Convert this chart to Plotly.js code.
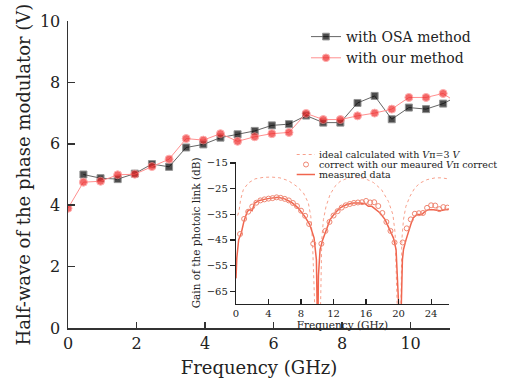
<!DOCTYPE html>
<html>
<head>
<meta charset="utf-8">
<script src="https://cdn.plot.ly/plotly-3.0.1.min.js"></script>
<style>html,body{margin:0;padding:0;background:#fff;}#chart{width:510px;height:379px;}</style>
</head>
<body>
<div id="chart"></div>
<script>
// ---- Main chart data: half-wave voltage vs frequency ----
const osaFreq = [0.45,0.95,1.45,1.95,2.45,2.95,3.45,3.95,4.45,4.95,5.45,5.95,6.45,6.95,7.45,7.95,8.45,8.95,9.45,9.95,10.45,10.95,11.2];
const osaVpi  = [5.0,4.88,4.85,5.03,5.34,5.25,5.88,5.98,6.2,6.31,6.42,6.6,6.64,6.92,6.69,6.69,7.33,7.56,6.8,7.18,7.13,7.31,7.45];
const ourFreq = [0,0.45,0.95,1.45,1.95,2.45,2.95,3.45,3.95,4.45,4.95,5.45,5.95,6.45,6.95,7.45,7.95,8.45,8.95,9.45,9.95,10.45,10.95,11.2];
const ourVpi  = [3.9,4.75,4.78,4.99,5.01,5.26,5.5,6.17,6.12,6.33,6.08,6.23,6.33,6.37,6.99,6.79,6.79,6.91,7.0,7.13,7.51,7.51,7.64,7.45];

// ---- Inset data: gain of the photonic link ----
const idealFreq = [0.2,0.37,0.57,0.9,1.52,2.34,3.36,4.4,5.4,6.44,7.47,8.3,8.9,9.2,9.4,9.48,9.55,9.95,10.35,10.4,10.55,10.75,11.08,11.57,12.18,12.8,13.8,14.85,15.88,16.9,17.9,18.75,19.3,19.57,19.7,19.77,19.85,20.05,20.25,20.3,20.4,20.6,20.9,21.4,22.0,22.65,23.5,24.5,25.3,26.1,26.3];
const idealGain = [-35.5,-33.8,-29.3,-25.4,-22.8,-21.2,-20.6,-20.5,-20.8,-21.9,-24.1,-26.7,-30.6,-35.8,-44.9,-57.9,-80,-95,-80,-70,-44.9,-37.1,-31.9,-27.3,-24.1,-22.2,-20.8,-20.6,-21.1,-22.6,-25.4,-30,-35.1,-42.3,-57.9,-69.5,-80,-95,-80,-69.5,-44.9,-37.1,-31.9,-28,-24.7,-22.8,-21.5,-20.8,-20.8,-21.2,-21.3];

const corrFreq = [0.5,1,1.5,2,2.5,3,3.5,4,4.5,5,5.5,6,6.5,7,7.5,8,8.5,9,9.5,
                  10.5,11,11.5,12,12.5,13,13.5,14,14.5,15,15.5,16,16.5,17,17.5,18,18.5,19,19.5,
                  20.5,21,21.5,22,22.5,23,23.5,24,24.5,25,25.5,26];
const corrGain = [-42.7,-36.8,-34,-32,-30.5,-29.6,-29.2,-28.9,-28.7,-28.4,-28.6,-29.0,-29.6,-30.6,-31.8,-33.6,-35.6,-38.8,-46.5,
                  -46.5,-41.5,-38,-35.5,-33.8,-32.4,-31.5,-31,-30.6,-30.4,-30.3,-29.8,-30.4,-30.3,-31.8,-34.5,-38,-41.5,-46,
                  -46,-40.5,-37,-34.8,-34.6,-34.5,-32.5,-31.5,-31.6,-33,-32.2,-32.4];

const measFreq = [0,0.1,0.33,0.65,0.98,1.39,1.68,1.97,2.3,2.9,3.73,4.55,5.17,5.99,6.81,7.63,8.45,9.07,9.6,9.89,10.05,10.14,10.34,10.67,11.08,11.57,12.18,12.8,13.62,14.44,15.26,15.88,16.28,16.7,17.1,17.72,18.34,18.95,19.36,19.69,19.97,20.22,20.47,20.6,20.92,21.2,21.5,21.8,22.24,22.85,23.26,23.67,24.3,25.1,25.7,26.2];
const measGain = [-60,-52,-44.9,-42.3,-37.7,-33.9,-33.2,-33.6,-30.6,-29.6,-29.0,-28.6,-28.4,-29.0,-30.3,-32.5,-35.8,-39.0,-44.2,-52.7,-85,-59,-48.8,-44.9,-41,-37.1,-34.5,-32.5,-31.2,-30.6,-30.6,-30.9,-31.9,-31.9,-32.9,-34.5,-37.1,-41,-44.2,-48.8,-61.7,-85,-52.7,-48.8,-44.9,-41.6,-39,-36.4,-35.1,-35.1,-33.9,-33.2,-33.2,-33.6,-33.2,-32.9];

const legendMain = ['with OSA method','with our method'];
const legendInset = ['ideal calculated with <i>V</i>π=3 <i>V</i>','correct with our meaured <i>V</i>π correct','measured data'];

const FONT = 'DejaVu Serif';
const RED = '#ef2b2b', REDLINE = '#ff8f8f';
const IDEAL = '#f7a08c', CORR = '#ef8672', MEAS = '#f0654e';

// hide the marker on the trailing (edge) point
const sizesOf = (arr, s) => arr.map((_, i) => i === arr.length - 1 ? 0 : s);

const traces = [
  {x: osaFreq, y: osaVpi, name: legendMain[0], type: 'scatter', mode: 'lines+markers',
   line: {color: '#666', width: 1}, marker: {symbol: 'square', color: '#000', size: sizesOf(osaFreq, 7)}},
  {x: ourFreq, y: ourVpi, name: legendMain[1], type: 'scatter', mode: 'lines+markers',
   line: {color: REDLINE, width: 1}, marker: {symbol: 'circle', color: RED, size: sizesOf(ourFreq, 8)}},
  {x: idealFreq, y: idealGain, xaxis: 'x2', yaxis: 'y2', type: 'scatter', mode: 'lines', showlegend: false,
   line: {color: IDEAL, width: 1, dash: 'dot'}},
  {x: measFreq, y: measGain, xaxis: 'x2', yaxis: 'y2', type: 'scatter', mode: 'lines', showlegend: false,
   line: {color: MEAS, width: 1.5}},
  {x: corrFreq, y: corrGain, xaxis: 'x2', yaxis: 'y2', type: 'scatter', mode: 'markers', showlegend: false,
   marker: {symbol: 'circle-open', color: CORR, size: 5, line: {width: 1, color: CORR}}}
];

// paper coordinate helpers for the inset legend (layout only)
const L = 68, T = 21, PW = 382, PH = 307;
const px = v => (v - L) / PW, py = v => (T + PH - v) / PH;
const legY = [154.5, 164.5, 174.5];

const layout = {
  width: 510, height: 379,
  margin: {l: L, r: 510 - L - PW, t: T, b: 379 - T - PH},
  paper_bgcolor: '#fff', plot_bgcolor: 'rgba(0,0,0,0)',
  font: {family: FONT, color: '#222'},
  showlegend: true,
  legend: {x: 0.623, y: 1.0, xanchor: 'left', yanchor: 'top', bgcolor: 'rgba(0,0,0,0)',
           font: {family: FONT, size: 14, color: '#222'}, tracegroupgap: 0},
  xaxis: {domain: [0, 1], range: [0, 11.15], dtick: 2, tick0: 0, showgrid: false, zeroline: false,
          showline: true, linecolor: '#333', linewidth: 1.5, ticks: 'inside', ticklen: 6, tickwidth: 1.5, tickcolor: '#333',
          tickfont: {family: FONT, size: 16, color: '#222'},
          title: {text: 'Frequency (GHz)', font: {family: FONT, size: 18, color: '#222'}, standoff: 9}},
  yaxis: {domain: [0, 1], range: [0, 10], dtick: 2, tick0: 0, showgrid: false, zeroline: false,
          showline: true, linecolor: '#333', linewidth: 1.5, ticks: 'inside', ticklen: 7, tickwidth: 1.5, tickcolor: '#333',
          tickfont: {family: FONT, size: 16, color: '#222'}, ticklabelstandoff: 3,
          title: {text: 'Half-wave of the phase modulator (V)', font: {family: FONT, size: 18, color: '#222'}, standoff: 4}},
  xaxis2: {domain: [px(236), px(449)], anchor: 'y2', range: [0, 26.2], dtick: 4, tick0: 0, showgrid: false, zeroline: false,
           showline: true, linecolor: '#222', linewidth: 1.2, ticks: 'inside', ticklen: 5, tickwidth: 1.2, tickcolor: '#222',
           tickfont: {family: FONT, size: 10, color: '#222'},
           title: {text: 'Frequency (GHz)', font: {family: FONT, size: 10.5, color: '#222'}, standoff: 0}},
  yaxis2: {domain: [py(304), py(161.7)], anchor: 'x2', range: [-70, -14.5], dtick: 10, tick0: -65, showgrid: false, zeroline: false,
           showline: true, linecolor: '#222', linewidth: 1.2, ticks: 'outside', ticklen: 5, tickwidth: 1.2, tickcolor: '#222',
           tickfont: {family: FONT, size: 10, color: '#222'},
           title: {text: 'Gain of the photoic link (dB)', font: {family: FONT, size: 10.5, color: '#222'}, standoff: 4}},
  shapes: [
    {type: 'line', xref: 'paper', yref: 'paper', x0: px(296.7), x1: px(315), y0: py(legY[0]), y1: py(legY[0]),
     line: {color: IDEAL, width: 1, dash: 'dot'}},
    {type: 'circle', xref: 'paper', yref: 'paper', xsizemode: 'pixel', ysizemode: 'pixel',
     xanchor: px(306), yanchor: py(legY[1]), x0: -2.5, x1: 2.5, y0: -2.5, y1: 2.5,
     line: {color: CORR, width: 1}},
    {type: 'line', xref: 'paper', yref: 'paper', x0: px(296.7), x1: px(315), y0: py(legY[2]), y1: py(legY[2]),
     line: {color: MEAS, width: 1.5}}
  ],
  annotations: legendInset.map((t, i) => ({
    text: t, xref: 'paper', yref: 'paper', x: px(317), y: py(legY[i]), xanchor: 'left', yanchor: 'middle',
    showarrow: false, font: {family: FONT, size: 9.5, color: '#222'}
  }))
};

Plotly.newPlot('chart', traces, layout, {displayModeBar: false, staticPlot: true});
</script>
</body>
</html>
